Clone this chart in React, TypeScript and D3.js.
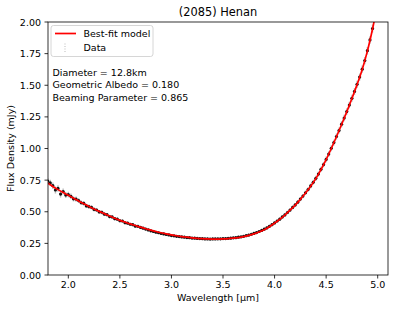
import React from "react";
import * as d3 from "d3";

const title = "(2085) Henan";
const xLabel = "Wavelength [µm]";
const yLabel = "Flux Density (mJy)";
const xTicks = [2.0, 2.5, 3.0, 3.5, 4.0, 4.5, 5.0];
const yTicks = [0, 0.25, 0.5, 0.75, 1.0, 1.25, 1.5, 1.75, 2.0];
const annotations = ["Diameter = 12.8km", "Geometric Albedo = 0.180", "Beaming Parameter = 0.865"];

// Best-fit model (0.05 µm grid starting at 1.80)
const modelWave = [
  1.8, 1.85, 1.9, 1.95, 2.0, 2.05, 2.1, 2.15, 2.2, 2.25, 2.3, 2.35, 2.4, 2.45, 2.5, 2.55, 2.6, 2.65, 2.7, 2.75,
  2.8, 2.85, 2.9, 2.95, 3.0, 3.05, 3.1, 3.15, 3.2, 3.25, 3.3, 3.35, 3.4, 3.45, 3.5, 3.55, 3.6, 3.65, 3.7, 3.75,
  3.8, 3.85, 3.9, 3.95, 4.0, 4.05, 4.1, 4.15, 4.2, 4.25, 4.3, 4.35, 4.4, 4.45, 4.5, 4.55, 4.6, 4.65, 4.7, 4.75,
  4.8, 4.85, 4.9, 4.95, 5.0,
];
const modelFlux = [
  0.728, 0.7, 0.675, 0.652, 0.63, 0.607, 0.585, 0.563, 0.542, 0.522, 0.503, 0.485, 0.466, 0.449, 0.432, 0.418,
  0.404, 0.391, 0.378, 0.366, 0.355, 0.344, 0.334, 0.325, 0.317, 0.31, 0.304, 0.299, 0.294, 0.29, 0.287, 0.285,
  0.284, 0.284, 0.285, 0.287, 0.291, 0.296, 0.303, 0.313, 0.325, 0.34, 0.358, 0.382, 0.41, 0.44, 0.474, 0.512,
  0.553, 0.598, 0.648, 0.702, 0.762, 0.833, 0.912, 1.0, 1.093, 1.19, 1.29, 1.395, 1.505, 1.625, 1.77, 1.945, 2.15,
];

// Observed data (0.025 µm grid starting at 1.80)
const dataStart = 1.8;
const dataStep = 0.025;
const dataFlux = [
  0.742, 0.728, 0.706, 0.672, 0.684, 0.64, 0.66, 0.632, 0.636, 0.622, 0.602, 0.6, 0.588, 0.571, 0.566, 0.546,
  0.54, 0.535, 0.518, 0.514, 0.499, 0.496, 0.481, 0.477, 0.462, 0.459, 0.445, 0.441, 0.429, 0.427, 0.413, 0.41,
  0.401, 0.398, 0.386, 0.385, 0.376, 0.37, 0.363, 0.356, 0.349, 0.344, 0.338, 0.334, 0.328, 0.325, 0.32, 0.317,
  0.312, 0.31, 0.306, 0.304, 0.301, 0.299, 0.296, 0.295, 0.292, 0.291, 0.289, 0.288, 0.287, 0.285, 0.285, 0.284,
  0.285, 0.285, 0.286, 0.286, 0.288, 0.288, 0.29, 0.291, 0.294, 0.295, 0.299, 0.302, 0.306, 0.311, 0.316, 0.322,
  0.329, 0.335, 0.344, 0.352, 0.362, 0.372, 0.385, 0.398, 0.412, 0.427, 0.441, 0.459, 0.475, 0.494, 0.513, 0.534,
  0.554, 0.576, 0.6, 0.624, 0.65, 0.676, 0.704, 0.733, 0.764, 0.798, 0.835, 0.873, 0.914, 0.956, 1.002, 1.047,
  1.095, 1.142, 1.192, 1.241, 1.292, 1.343, 1.397, 1.451, 1.507, 1.565, 1.627, 1.695, 1.773, 1.858, 1.948, 2.05,
  2.152,
];
const dataErr = [
  0.024, 0.024, 0.026, 0.028, 0.026, 0.028, 0.024, 0.024, 0.022, 0.022, 0.02, 0.02, 0.019, 0.018, 0.018, 0.017,
  0.017, 0.016, 0.016, 0.016, 0.015, 0.015, 0.015, 0.014, 0.014, 0.014, 0.014, 0.014, 0.013, 0.013, 0.013, 0.013,
  0.013, 0.013, 0.012, 0.012, 0.012, 0.012, 0.012, 0.012, 0.012, 0.012, 0.011, 0.011, 0.011, 0.011, 0.011, 0.011,
  0.011, 0.011, 0.011, 0.011, 0.011, 0.011, 0.011, 0.011, 0.011, 0.011, 0.011, 0.011, 0.011, 0.011, 0.011, 0.011,
  0.011, 0.011, 0.011, 0.011, 0.011, 0.011, 0.011, 0.011, 0.011, 0.011, 0.011, 0.011, 0.011, 0.012, 0.012, 0.012,
  0.012, 0.012, 0.012, 0.012, 0.013, 0.013, 0.013, 0.013, 0.014, 0.014, 0.014, 0.014, 0.015, 0.015, 0.015, 0.016,
  0.016, 0.016, 0.017, 0.017, 0.018, 0.018, 0.019, 0.019, 0.02, 0.02, 0.021, 0.021, 0.022, 0.022, 0.023, 0.023,
  0.024, 0.024, 0.025, 0.025, 0.026, 0.026, 0.027, 0.027, 0.028, 0.028, 0.029, 0.029, 0.03, 0.03, 0.031, 0.031,
  0.032,
];

const W = 395;
const H = 312;
const L = 48, R = 388, T = 22, B = 275;
const FONT = "DejaVu Sans, sans-serif";
const FS = 9.5;

export default function App() {
  const x = d3.scaleLinear().domain([1.803, 5.1]).range([L, R]);
  const y = d3.scaleLinear().domain([0, 2]).range([B, T]);
  const data = dataFlux.map((f, i) => ({ w: dataStart + i * dataStep, f, e: dataErr[i] }));
  const model = modelWave.map((w, i) => ({ w, f: modelFlux[i] }));
  const line = d3
    .line<{ w: number; f: number }>()
    .x((d) => x(d.w))
    .y((d) => y(d.f))
    .curve(d3.curveCatmullRom);

  return (
    <svg width={W} height={H} style={{ position: "absolute", left: 0, top: 0, background: "#fff" }} fontFamily={FONT}>
      <defs>
        <clipPath id="plot">
          <rect x={L} y={T} width={R - L} height={B - T} />
        </clipPath>
      </defs>
      <rect x={0} y={0} width={W} height={H} fill="#fff" />
      <g clipPath="url(#plot)">
        {data.map((d, i) => (
          <line key={"e" + i} x1={x(d.w)} x2={x(d.w)} y1={y(d.f - d.e)} y2={y(d.f + d.e)} stroke="#888" strokeOpacity={0.55} strokeWidth={1.4} />
        ))}
        {data.map((d, i) => (
          <circle key={"p" + i} cx={x(d.w)} cy={y(d.f)} r={1.6} fill="#111" />
        ))}
        <path d={line(model) || ""} fill="none" stroke="#ff0000" strokeWidth={1.7} />
      </g>
      {/* spines */}
      <rect x={L} y={T} width={R - L} height={B - T} fill="none" stroke="#000" strokeWidth={0.8} />
      {/* x ticks */}
      {xTicks.map((t) => (
        <g key={"xt" + t}>
          <line x1={x(t)} x2={x(t)} y1={B} y2={B + 3.5} stroke="#000" strokeWidth={0.8} />
          <text x={x(t)} y={288} textAnchor="middle" fontSize={FS} fill="#000">
            {d3.format(".1f")(t)}
          </text>
        </g>
      ))}
      {/* y ticks */}
      {yTicks.map((t) => (
        <g key={"yt" + t}>
          <line x1={L - 3.5} x2={L} y1={y(t)} y2={y(t)} stroke="#000" strokeWidth={0.8} />
          <text x={L - 7} y={y(t) + 3.5} textAnchor="end" fontSize={FS} fill="#000">
            {d3.format(".2f")(t)}
          </text>
        </g>
      ))}
      <text x={(L + R) / 2} y={300.5} textAnchor="middle" fontSize={FS} fill="#000">
        {xLabel}
      </text>
      <text transform={`translate(14,${(T + B) / 2}) rotate(-90)`} textAnchor="middle" fontSize={FS} fill="#000">
        {yLabel}
      </text>
      <text x={(L + R) / 2} y={15.5} textAnchor="middle" fontSize={11.4} fill="#000">
        {title}
      </text>
      {/* legend */}
      <rect x={51} y={25.5} width={102} height={31} rx={2.5} fill="#fff" fillOpacity={0.8} stroke="#ccc" strokeWidth={0.8} />
      <line x1={55} x2={76} y1={33.5} y2={33.5} stroke="#ff0000" strokeWidth={1.7} />
      <text x={83.5} y={37} fontSize={FS} fill="#000">Best-fit model</text>
      <line x1={65} x2={65} y1={43.5} y2={52} stroke="#bbb" strokeWidth={1} strokeDasharray="1,1.5" />
      <text x={83.5} y={51.3} fontSize={FS} fill="#000">Data</text>
      {annotations.map((a, i) => (
        <text key={a} x={52.5} y={75.5 + i * 12.5} fontSize={FS} fill="#000">
          {a}
        </text>
      ))}
    </svg>
  );
}
